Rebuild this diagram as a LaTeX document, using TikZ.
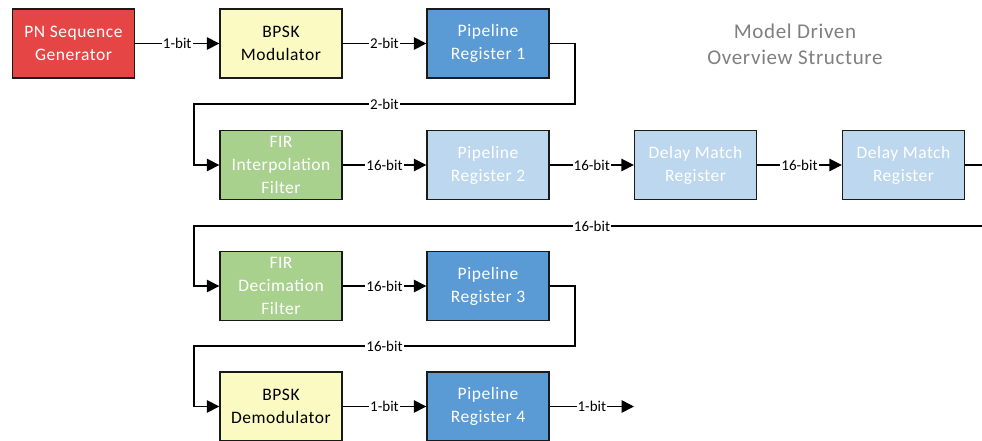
\documentclass[tikz,border=0pt]{standalone}
\usepackage{fontspec}
\setmainfont{Carlito}
\newfontfamily\spacedfont[LetterSpace=3]{Carlito}
\usetikzlibrary{arrows.meta}
\definecolor{pnred}{HTML}{E64545}
\definecolor{bpskyel}{HTML}{FAFAC2}
\definecolor{regblue}{HTML}{5B9BD5}
\definecolor{regltblue}{HTML}{BDD7EE}
\definecolor{firgreen}{HTML}{A9D18E}
\definecolor{boxline}{HTML}{1A1A1A}
\definecolor{titlegray}{HTML}{7F7F7F}
\tikzset{
  blockbox/.style={draw=boxline, line width=1.4pt, minimum width=122pt, minimum height=69pt,
    inner sep=0pt, align=center, font=\spacedfont\fontsize{17.5}{23}\selectfont},
  whitetext/.style={text=white},
  conn/.style={line width=1.6pt, -{Triangle[length=12.5pt,width=12.5pt]}},
  bitlabel/.style={fill=white, inner sep=1pt, font=\fontsize{15}{17}\selectfont, text=black}
}
\begin{document}
\begin{tikzpicture}[x=1pt, y=-1pt]
\useasboundingbox (0,0) rectangle (982,440);
\clip (0,0) rectangle (982,440);
% boxes
\node[blockbox, fill=pnred, whitetext] (pn) at (73.5,43.5) {PN Sequence\\Generator};
\node[blockbox, fill=bpskyel] (mod) at (281,43.5) {BPSK\\Modulator};
\node[blockbox, fill=regblue, whitetext] (pr1) at (488,43.5) {Pipeline\\Register 1};
\node[blockbox, fill=firgreen, whitetext] (fi) at (281,165) {FIR\\Interpolation\\Filter};
\node[blockbox, fill=regltblue, whitetext] (pr2) at (488,165) {Pipeline\\Register 2};
\node[blockbox, fill=regltblue, whitetext] (dm1) at (695.5,165) {Delay Match\\Register};
\node[blockbox, fill=regltblue, whitetext] (dm2) at (903.5,165) {Delay Match\\Register};
\node[blockbox, fill=firgreen, whitetext] (fd) at (281,286) {FIR\\Decimation\\Filter};
\node[blockbox, fill=regblue, whitetext] (pr3) at (488,286) {Pipeline\\Register 3};
\node[blockbox, fill=bpskyel] (dem) at (281,406.5) {BPSK\\Demodulator};
\node[blockbox, fill=regblue, whitetext] (pr4) at (488,406.5) {Pipeline\\Register 4};
% title
\node[text=titlegray, align=center, font=\spacedfont\fontsize{21}{26}\selectfont] (title) at (795,44.5) {Model Driven\\Overview Structure};
% coordinates
\coordinate (c1a) at (575,43.5);
\coordinate (c1b) at (575,104);
\coordinate (c1c) at (194,104);
\coordinate (c1d) at (194,165);
\coordinate (c2a) at (990,165);
\coordinate (c2b) at (990,226);
\coordinate (c2c) at (194,226);
\coordinate (c2d) at (194,286);
\coordinate (c3a) at (575,286);
\coordinate (c3b) at (575,346);
\coordinate (c3c) at (194,346);
\coordinate (c3d) at (194,406.5);
\coordinate (out) at (634,406.5);
% straight connectors
\draw[conn] (pn) -- node[bitlabel] {1-bit} (mod);
\draw[conn] (mod) -- node[bitlabel] {2-bit} (pr1);
\draw[conn] (fi) -- node[bitlabel] {16-bit} (pr2);
\draw[conn] (pr2) -- node[bitlabel] {16-bit} (dm1);
\draw[conn] (dm1) -- node[bitlabel] {16-bit} (dm2);
\draw[conn] (fd) -- node[bitlabel] {16-bit} (pr3);
\draw[conn] (dem) -- node[bitlabel] {1-bit} (pr4);
\draw[conn] (pr4) -- node[bitlabel] {1-bit} (out);
% wrap-around connectors
\draw[conn] (pr1.east) -- (c1a) -- (c1b) -- node[bitlabel] {2-bit} (c1c) -- (c1d) -- (fi.west);
\draw[conn] (dm2.east) -- (c2a) -- (c2b) -- node[bitlabel] {16-bit} (c2c) -- (c2d) -- (fd.west);
\draw[conn] (pr3.east) -- (c3a) -- (c3b) -- node[bitlabel] {16-bit} (c3c) -- (c3d) -- (dem.west);
\end{tikzpicture}
\end{document}
